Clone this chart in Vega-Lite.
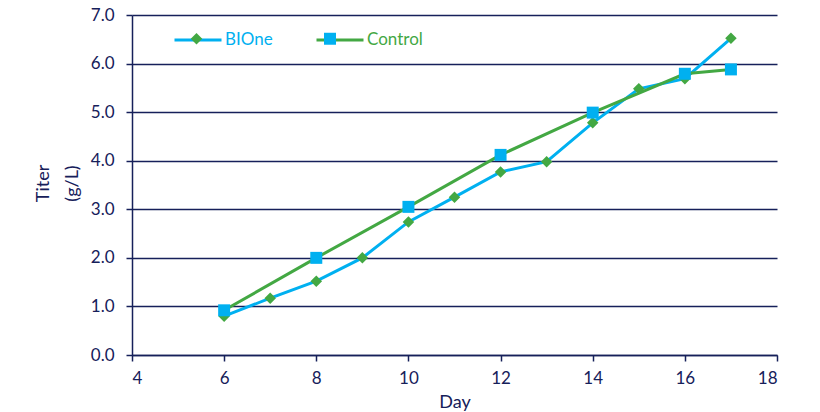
{
  "$schema": "https://vega.github.io/schema/vega-lite/v6.json",
  "width": 645,
  "height": 340,
  "autosize": {"type": "none"},
  "padding": {"left": 132, "top": 15, "right": 43, "bottom": 57},
  "background": "white",
  "config": {
    "view": {"stroke": null},
    "font": "Lato",
    "axis": {
      "labelFont": "Lato",
      "titleFont": "Lato",
      "labelFontSize": 17,
      "titleFontSize": 18,
      "labelColor": "#16205a",
      "titleColor": "#16205a",
      "titleFontWeight": "normal",
      "domainColor": "#16205a",
      "domainWidth": 1.5,
      "tickColor": "#16205a",
      "tickWidth": 1.5,
      "tickSize": 6,
      "gridColor": "#16205a",
      "gridWidth": 1.5,
      "gridOpacity": 1
    }
  },
  "data": {
    "values": [
      {"day": 6, "series": "BIOne", "titer": 0.8},
      {"day": 7, "series": "BIOne", "titer": 1.17},
      {"day": 8, "series": "BIOne", "titer": 1.52},
      {"day": 9, "series": "BIOne", "titer": 2.0},
      {"day": 10, "series": "BIOne", "titer": 2.74},
      {"day": 11, "series": "BIOne", "titer": 3.25},
      {"day": 12, "series": "BIOne", "titer": 3.77},
      {"day": 13, "series": "BIOne", "titer": 3.98},
      {"day": 14, "series": "BIOne", "titer": 4.78},
      {"day": 15, "series": "BIOne", "titer": 5.48},
      {"day": 16, "series": "BIOne", "titer": 5.69},
      {"day": 17, "series": "BIOne", "titer": 6.52},
      {"day": 6, "series": "Control", "titer": 0.92},
      {"day": 8, "series": "Control", "titer": 2.0},
      {"day": 10, "series": "Control", "titer": 3.05},
      {"day": 12, "series": "Control", "titer": 4.12},
      {"day": 14, "series": "Control", "titer": 4.99},
      {"day": 16, "series": "Control", "titer": 5.79},
      {"day": 17, "series": "Control", "titer": 5.88}
    ]
  },
  "encoding": {
    "x": {
      "field": "day",
      "type": "quantitative",
      "scale": {"domain": [4, 18], "nice": false, "zero": false},
      "axis": {
        "values": [4, 6, 8, 10, 12, 14, 16, 18],
        "format": "d",
        "grid": false,
        "labelPadding": 9,
        "title": "Day",
        "titlePadding": 7
      }
    },
    "y": {
      "field": "titer",
      "type": "quantitative",
      "scale": {"domain": [0, 7], "nice": false},
      "axis": {
        "values": [0, 1, 2, 3, 4, 5, 6, 7],
        "format": ".1f",
        "grid": true,
        "labelPadding": 12,
        "title": ["Titer", "(g/L)"],
        "titleLineHeight": 29,
        "titleAngle": -90,
        "titleBaseline": "middle",
        "titleAnchor": "middle",
        "titleX": -89,
        "titleY": 168
      }
    }
  },
  "layer": [
    {
      "mark": {"type": "line", "strokeWidth": 3},
      "encoding": {
        "stroke": {
          "field": "series",
          "type": "nominal",
          "scale": {"domain": ["BIOne", "Control"], "range": ["#00b0f0", "#43a843"]},
          "legend": {
            "orient": "none",
            "direction": "horizontal",
            "legendX": 41,
            "legendY": 0,
            "title": null,
            "padding": 0,
            "symbolType": "stroke",
            "symbolSize": 2209,
            "symbolStrokeWidth": 3,
            "labelFont": "Lato",
            "labelFontSize": 17,
            "labelOffset": 2,
            "labelColor": {"expr": "datum.value === 'BIOne' ? '#00b0f0' : '#43a843'"},
            "columnPadding": 37
          }
        }
      }
    },
    {
      "mark": {"type": "point", "filled": true, "opacity": 1, "size": 2209, "strokeWidth": 0},
      "encoding": {
        "fill": {
          "field": "series",
          "type": "nominal",
          "scale": {"range": ["#43a843", "#00b0f0"]},
          "legend": {
            "orient": "none",
            "direction": "horizontal",
            "legendX": 41,
            "legendY": 0,
            "title": null,
            "padding": 0,
            "symbolSize": 2209,
            "symbolStrokeWidth": 0,
            "symbolOpacity": 1,
            "labelFont": "Lato",
            "labelFontSize": 17,
            "labelOffset": 2,
            "labelExpr": "''",
            "columnPadding": 84.5
          }
        },
        "shape": {
          "field": "series",
          "type": "nominal",
          "scale": {"range": ["M0,-0.245L0.245,0L0,0.245L-0.245,0Z", "M-0.255,-0.255H0.255V0.255H-0.255Z"]},
          "legend": {
            "orient": "none",
            "direction": "horizontal",
            "legendX": 41,
            "legendY": 0,
            "title": null,
            "padding": 0,
            "symbolSize": 2209,
            "symbolStrokeWidth": 0,
            "labelFontSize": 17,
            "labelOffset": 2,
            "labelExpr": "''",
            "columnPadding": 84.5
          }
        }
      }
    }
  ]
}
